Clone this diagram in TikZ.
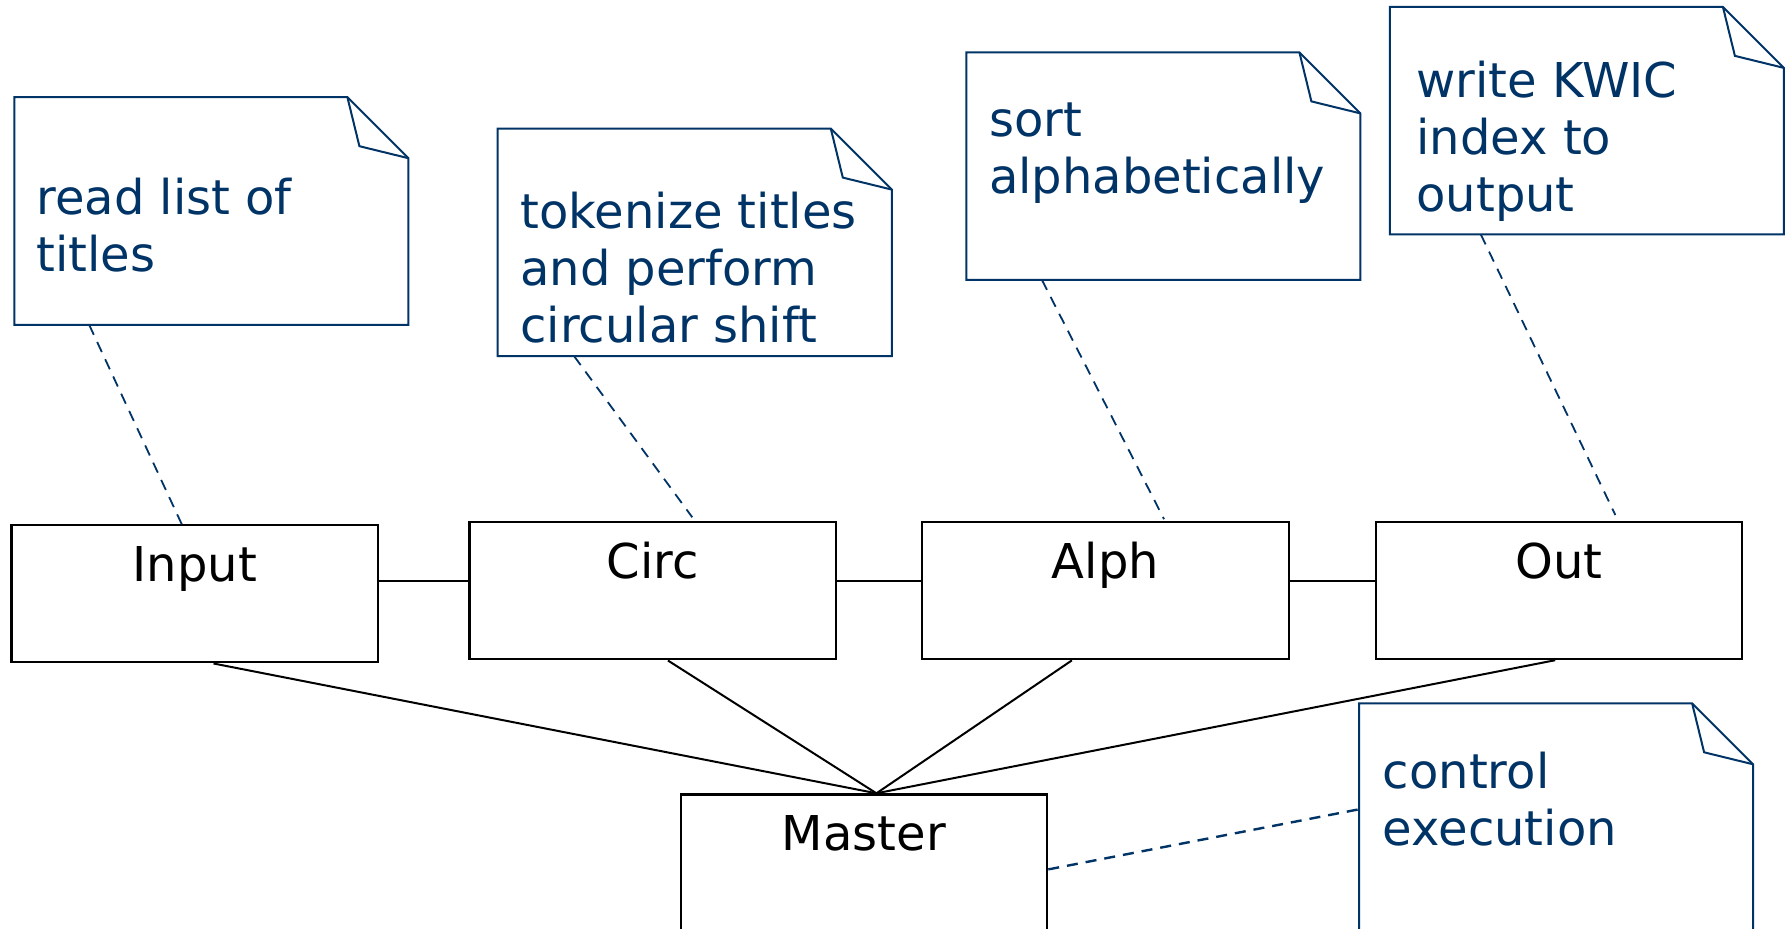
\documentclass[tikz,border=0pt]{standalone}
\usepackage{fontspec}
\setmainfont{DejaVu Sans}
\usetikzlibrary{calc}
\definecolor{navy}{RGB}{0,51,102}
\newcommand\notebody[1]{%
  \draw[noteline] (#1.south west) -- (#1.north west) -- ([xshift=-30.5pt]#1.north east)
    -- ([yshift=-30.5pt]#1.north east) -- (#1.south east) -- cycle;
  \draw[noteline] ([xshift=-30.5pt]#1.north east) -- ([xshift=-24.5pt,yshift=-24.5pt]#1.north east)
    -- ([yshift=-30.5pt]#1.north east);}
\tikzset{
  txtfont/.style={font=\fontsize{24}{28.5}\selectfont},
  box/.style={draw=black, line width=1.1pt, minimum width=183.3pt, text height=28pt,
    text depth=40.5pt, inner xsep=0pt, inner ysep=0pt, txtfont, anchor=north west},
  note/.style={minimum width=196.65pt, minimum height=113.4pt, inner sep=0pt, anchor=north west},
  noteline/.style={draw=navy, line width=1pt, line join=miter},
  notetext/.style={text=navy, anchor=north west, align=left, inner sep=0pt, txtfont},
  conn/.style={draw=black, line width=1pt},
  dashline/.style={draw=navy, line width=0.9pt, dash pattern=on 5.5pt off 4pt},
}
\begin{document}
\begin{tikzpicture}[x=0.5pt, y=-0.5pt]
\useasboundingbox (0,0) rectangle (1788,929);
\fill[white] (0,0) rectangle (1788,929);
\clip (0,0) rectangle (1788,929);

% modules
\node[box] (input)  at (10.3,524.3) {Input};
\node[box] (circ)   at (468.4,521.3) {Circ};
\node[box] (alph)   at (921,521.2) {Alph};
\node[box] (out)    at (1374.5,521) {Out};
\node[box] (master) at (679.5,793.3) {Master};

% notes
\node[note] (n1) at (14.3,97.2) {};
\node[note] (n2) at (497.7,128.6) {};
\node[note] (n3) at (966.3,52.4) {};
\node[note] (n4) at (1389.8,6.9) {};
\node[note, minimum height=150pt] (n5) at (1359,703.3) {};
\notebody{n1}
\notebody{n2}
\notebody{n3}
\notebody{n4}
\notebody{n5}

\node[notetext] (t1) at (36,174.1) {\strut read list of\\titles};
\node[notetext] (t2) at (520,188.1) {\strut tokenize titles\\and perform\\circular shift};
\node[notetext] (t3) at (988.6,96.7) {\strut sort\\alphabetically};
\node[notetext] (t4) at (1416,57.7) {\strut write KWIC\\index to\\output};
\node[notetext] (t5) at (1382.5,748.4) {\strut control\\execution};

% chain of modules
\coordinate (bus) at (0,581.5);
\draw[conn] (input.east |- bus) -- (circ.west |- bus);
\draw[conn] (circ.east |- bus) -- (alph.west |- bus);
\draw[conn] (alph.east |- bus) -- (out.west |- bus);

% links to the master
\coordinate (hub) at ($(master.north west)!0.534!(master.north east)$);
\draw[conn] ($(input.south west)!0.551!(input.south east)$) -- (hub);
\draw[conn] ($(circ.south west)!0.541!(circ.south east)$) -- (hub);
\draw[conn] ($(alph.south west)!0.409!(alph.south east)$) -- (hub);
\draw[conn] ($(out.south west)!0.49!(out.south east)$) -- (hub);

% note anchors
\draw[dashline] ($(n1.south west)!0.19!(n1.south east)$) -- ($(input.north west)!0.465!(input.north east)$);
\draw[dashline] ($(n2.south west)!0.194!(n2.south east)$) -- ([yshift=2pt]$(circ.north west)!0.607!(circ.north east)$);
\draw[dashline] ($(n3.south west)!0.192!(n3.south east)$) -- ([yshift=1pt]$(alph.north west)!0.659!(alph.north east)$);
\draw[dashline] ($(n4.south west)!0.231!(n4.south east)$) -- ([yshift=3pt]$(out.north west)!0.653!(out.north east)$);
\draw[dashline, line width=1.2pt] ([yshift=-3.25pt]master.east) -- ([yshift=-53pt]n5.north west);
\end{tikzpicture}
\end{document}
